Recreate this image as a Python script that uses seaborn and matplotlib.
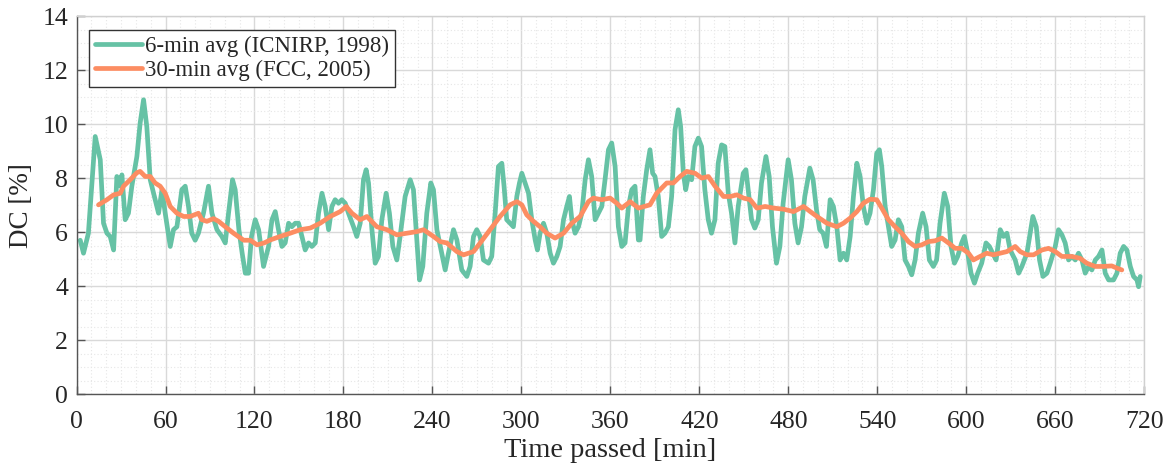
import numpy as np
import pandas as pd
import matplotlib
matplotlib.use("Agg")
import matplotlib.pyplot as plt
import seaborn as sns
from matplotlib.ticker import MultipleLocator

# ---- data ----
t_6min = [2.5, 4.7, 8, 12.6, 16, 18.2, 20.5, 22.7, 25, 27.2, 29.5, 30.6, 32.8, 35, 37.3, 40.7, 42.9, 45.2, 47.4,
          49.7, 53, 55.3, 57.6, 59.8, 63.2, 65.4, 67.7, 71, 73.3, 75.5, 77.7, 80, 82.2, 85.6, 89, 91.3, 94.7, 98,
          100.3, 102.5, 105.2, 107, 109.5, 111.7, 113.8, 116, 118, 120.5, 122.8,
          126.1, 129.5, 131.8, 134, 136.2, 138.5, 140.7, 143, 145.2, 147.5, 149.7, 152, 154.2, 156.5, 158.7, 161,
          163.2, 165.5, 167.7, 170, 172.2, 174.4, 176.7, 178.9, 181.2, 183.4, 186.8, 189, 191.3, 193.5, 195.3,
          196.9, 199.2, 201.4, 203.6, 205.9, 208.8, 211, 213.3, 216, 218.2, 221.6, 225, 227.2, 229.5, 231.3,
          233.5, 236.2, 238.9, 240.7, 243, 246.3, 248.6, 250.8,
          254.2, 256.5, 259.8, 263.2, 265.4, 267.7, 269.9, 272.2, 274.4, 277.8, 280, 282.3, 284.5, 286.8, 288.3,
          290.1, 292.4, 294.6, 296.9, 298.7, 300.3, 302.5, 304.8, 307, 309.3, 310.8, 312.6, 314.9, 317.1, 319.4,
          321.6, 323.9, 326.1, 328.4, 330.6, 332.4, 334, 336.2, 338.5, 340.7, 343, 345.2, 347.4, 349.7, 351.9,
          354.2, 356.4, 358.7, 360.9, 363.2, 365.4, 367.7, 369.9, 372.2, 374.4, 376.6, 378.9,
          380, 382.2, 384.5, 386.7, 388.5, 390.1, 392.3, 394.6, 396.8, 399.1, 401.3, 403.6, 405.8, 407.4, 409.2,
          410.8, 412.5, 414.8, 417, 419.3, 421.5, 423.7, 426, 428.2, 430.5, 432.7, 435, 437.2, 439.5, 441.7, 444,
          446.2, 449.6, 451.4, 452.9, 455.2, 457.4, 459.7, 461.9, 464.9, 467.1, 469.3, 472, 474.3, 476.5, 479.9,
          482.1, 484.4, 486.6, 488.9, 491.1, 494.5, 496.7, 499, 501.2, 503.5, 505.7,
          508.2, 510.4, 512.7, 514.9, 517.2, 519.4, 521.7, 523.9, 526.2, 528.4, 530.6, 532.9, 535.1, 537.4, 539.6,
          541.4, 543, 545.3, 547.5, 549.7, 552, 554.2, 556.5, 558.7, 561, 563.2, 565.5, 567.7, 570.6, 572.9,
          575.1, 577.8, 580, 582.3, 585.2, 587.5, 589.7, 592, 594.2, 596.9, 598.7, 601, 603.2, 605.5, 607.7,
          610.4, 613.3, 615.6, 617.8, 620.1,
          622.9, 625.1, 627.4, 629.6, 633, 635.3, 637.5, 640.9, 643.1, 644.9, 647.2, 649.4, 651.7, 654.4, 656.6,
          660, 662.2, 664.5, 666.7, 669, 671.2, 673.5, 675.7, 678, 680.2, 682.5, 684.7, 687, 689.2, 691.5, 693.7,
          696, 699.3, 701.6, 703.8, 706.1, 708.3, 710.6, 712.8, 715.1, 716.2, 717.3]
dc_6min = [5.7, 5.22, 5.96, 9.54, 8.68, 6.33, 5.96, 5.84, 5.34, 8.06, 7.7, 8.12, 6.46, 6.7, 7.7, 8.8, 10.04, 10.9, 9.9,
           7.94, 7.2, 6.7, 7.57, 6.7, 5.47, 6.09, 6.2, 7.57, 7.7, 6.95, 5.96, 5.7, 5.96, 6.7, 7.7, 6.7, 6.09, 5.84,
           5.6, 6.7, 7.94, 7.57, 6.09, 5.22, 4.48, 4.48, 5.84, 6.46, 6.09,
           4.73, 5.47, 6.46, 6.76, 6.09, 5.47, 5.6, 6.33, 6.2, 6.33, 6.33, 5.84, 5.34, 5.6, 5.47, 5.6,
           6.7, 7.44, 6.95, 6.09, 6.95, 7.2, 7.07, 7.2, 7.07, 6.7, 6.2, 5.84, 6.33, 7.94, 8.31,
           7.82, 6.09, 4.85, 5.1, 6.46, 7.44, 6.7, 5.47, 4.97, 5.84, 7.32, 7.94, 7.57, 5.71, 4.23,
           4.73, 6.7, 7.82, 7.57, 6.09, 5.22, 4.6, 5.22,
           6.09, 5.71, 4.6, 4.36, 4.73, 5.84, 6.09, 5.84, 4.97, 4.85, 5.1, 6.7, 8.43, 8.55, 7.7,
           6.46, 6.33, 6.2, 7.32, 7.82, 8.18, 7.82, 7.44, 6.46, 5.71, 5.34, 5.96, 6.33, 5.96, 5.22,
           4.85, 5.1, 5.47, 6.46, 6.95, 7.32, 6.46, 5.96, 6.2, 6.7, 7.94, 8.68, 8.06, 6.46, 6.7,
           6.95, 7.94, 9.05, 9.3, 8.43, 6.2, 5.47, 5.6, 6.95, 7.57, 7.7, 5.71,
           5.71, 7.32, 8.31, 9.05, 8.18, 8.06, 7.32, 5.84, 5.96, 6.2, 7.32, 9.79, 10.53, 9.9, 8.18,
           7.57, 8.06, 7.94, 9.17, 9.48, 9.17, 7.57, 6.46, 5.96, 6.46, 8.55, 9.23, 9.17, 7.44, 6.7, 5.6,
           6.95, 8.18, 8.31, 7.57, 6.46, 6.15, 6.46, 7.82, 8.8, 8.06, 6.2, 4.85, 5.47, 7.07, 8.68,
           7.94, 6.33, 5.6, 6.2, 7.32, 8.37, 7.94, 6.83, 6.09, 5.96, 5.47,
           7.2, 6.95, 6.2, 4.97, 5.22, 4.97, 5.84, 7.32, 8.55, 8.06, 6.95, 6.33, 6.7, 7.57, 8.92,
           9.05, 8.43, 6.95, 6.2, 5.47, 5.71, 6.46, 6.2, 4.97, 4.73, 4.42, 4.97, 5.96, 6.7, 6.2,
           4.97, 4.73, 4.97, 6.33, 7.44, 6.95, 5.47, 4.85, 5.1, 5.6, 5.84, 5.22, 4.48, 4.11, 4.48,
           4.85, 5.6, 5.47, 5.22, 4.97,
           6.09, 5.84, 5.96, 5.34, 4.97, 4.48, 4.73, 5.22, 5.96, 6.58, 6.2, 4.97, 4.36, 4.48, 4.85,
           5.47, 6.09, 5.9, 5.6, 4.97, 5.1, 4.97, 5.22, 4.97, 4.48, 4.73, 4.6, 4.97, 5.1, 5.34, 4.48,
           4.23, 4.23, 4.48, 5.22, 5.47, 5.34, 4.73, 4.36, 4.23, 3.98, 4.36]

t_30min = [14.8, 20.5, 25, 29.5, 31.7, 36.2, 40.7, 42.9, 46.3, 49.7, 53, 56.4, 59.8, 63.2, 67.7, 72.2, 76.7, 82.2,
           84.5, 87.9, 92.4, 95.8, 100.3, 105.9, 112.7, 117.2, 121.7,
           126.5, 130.6, 137.3, 144.1, 150.8, 157.6, 164.3, 171.1, 177.8, 181.9, 185.7, 191.3, 195.8, 202.5, 209.3,
           216, 222.7, 229.5, 234, 240.7, 245.2, 249.7,
           256.5, 261, 267.7, 272.2, 278.9, 285.6, 292.4, 296.9, 300.3, 303.6, 308.1, 312.6, 317.1, 322.7, 328.4,
           334, 339.6, 345.2, 348.5, 354.2, 359.8, 364.3, 367.7, 373.3, 378.9,
           386.7, 391.2, 398, 402.5, 407, 411.5, 417.1, 421.6, 426.1, 430.6, 436.3, 440.8, 445.3, 449.8, 454.3,
           458.8, 464.4, 470, 476.8, 483.5, 490.3, 494.8, 499.3, 506,
           512.7, 517.2, 521.7, 526.2, 530.6, 535.1, 539.6, 543, 547.5, 552, 556.5, 561, 565.5, 570, 574.5, 579,
           583.5, 588, 592.5, 597, 601.5, 604.8, 609.3, 613.8, 618.3,
           622.9, 627.4, 633, 636.4, 640.9, 645.4, 651, 655.5, 660, 664.5, 671.2, 676.8, 681.3, 686.9, 692.5,
           698.1, 701.5, 704.9]
dc_30min = [7.01, 7.2, 7.38, 7.44, 7.7, 7.94, 8.2, 8.25, 8.06, 8.06, 7.82, 7.7, 7.44, 6.95, 6.7, 6.58, 6.58, 6.7,
            6.46, 6.4, 6.5, 6.4, 6.2, 5.96, 5.7, 5.7, 5.53,
            5.6, 5.71, 5.84, 5.96, 6.09, 6.15, 6.33, 6.58, 6.76, 6.95, 6.7, 6.46, 6.58, 6.2, 6.09,
            5.9, 5.96, 6.02, 6.09, 5.84, 5.65, 5.6,
            5.28, 5.16, 5.28, 5.6, 6.09, 6.58, 7.01, 7.13, 7.01, 6.64, 6.4, 6.2, 5.96, 5.78, 5.96,
            6.33, 6.58, 7.13, 7.26, 7.2, 7.26, 7.07, 6.89, 7.13, 6.89,
            7.01, 7.44, 7.82, 7.82, 8.06, 8.25, 8.18, 8.0, 8.06, 7.7, 7.32, 7.32, 7.38, 7.26, 7.2,
            6.89, 6.95, 6.89, 6.85, 6.76, 6.95, 6.76, 6.58, 6.33,
            6.2, 6.33, 6.52, 6.76, 7.07, 7.22, 7.2, 6.89, 6.46, 6.2, 5.96, 5.65, 5.47, 5.53, 5.65, 5.68,
            5.78, 5.6, 5.4, 5.4, 5.22, 4.97, 5.1, 5.22, 5.16,
            5.22, 5.28, 5.47, 5.28, 5.16, 5.16, 5.34, 5.4, 5.28, 5.1, 5.1, 5.03, 4.85, 4.73, 4.73,
            4.75, 4.67, 4.6]

series_names = ["6-min avg (ICNIRP, 1998)", "30-min avg (FCC, 2005)"]
x_ticks = list(range(0, 721, 60))
y_ticks = list(range(0, 15, 2))

df = pd.concat([
    pd.DataFrame({"t": t_6min, "dc": dc_6min, "series": series_names[0]}),
    pd.DataFrame({"t": t_30min, "dc": dc_30min, "series": series_names[1]}),
], ignore_index=True)

sns.set_style("white")
plt.rcParams["font.family"] = ["Liberation Serif", "DejaVu Serif"]

fig = plt.figure(figsize=(11.72, 4.71), dpi=100)
ax = fig.add_axes([0.0653, 0.163, 0.911, 0.803])

palette = {series_names[0]: "#66c2a5", series_names[1]: "#fc8d62"}
sns.lineplot(data=df, x="t", y="dc", hue="series", palette=palette, ax=ax,
             linewidth=3.4, sort=False, estimator=None)

ax.set_xlim(0, 720)
ax.set_ylim(0, 14)
ax.set_xticks(x_ticks)
ax.set_yticks(y_ticks)
ax.xaxis.set_minor_locator(MultipleLocator(10))
ax.yaxis.set_minor_locator(MultipleLocator(0.5))
ax.grid(which="major", color="#d9d9d9", linewidth=1.0, linestyle="-")
ax.grid(which="minor", color="#e6e6e6", linewidth=0.8, linestyle=(0, (1, 2)))
ax.set_axisbelow(True)
ax.tick_params(which="major", direction="in", length=6, width=1, color="#555555",
               labelsize=18.5, labelcolor="#262626", top=False, right=False, bottom=True, left=True)
ax.tick_params(axis="x", which="major", pad=12)
ax.tick_params(axis="y", which="major", pad=6)
ax.tick_params(which="minor", length=0)
for s in ax.spines.values():
    s.set_color("#555555")
    s.set_linewidth(1.0)
ax.spines["top"].set_color("#d0d0d0")
ax.spines["right"].set_color("#d0d0d0")

ax.set_xlabel("Time passed [min]", fontsize=20.5, color="#262626", labelpad=4)
ax.set_ylabel("DC [%]", fontsize=19.5, color="#262626", labelpad=6)

leg = ax.legend(loc="upper left", bbox_to_anchor=(0.012, 0.963), fontsize=16.5, frameon=True,
                fancybox=False, framealpha=1, edgecolor="#333333", handlelength=2.05,
                handletextpad=0.15, borderpad=0.25, labelspacing=0.12, borderaxespad=0.0)
leg.get_frame().set_linewidth(1.0)
for line in leg.get_lines():
    line.set_linewidth(3.4)

fig.savefig("out.png", dpi=100)
